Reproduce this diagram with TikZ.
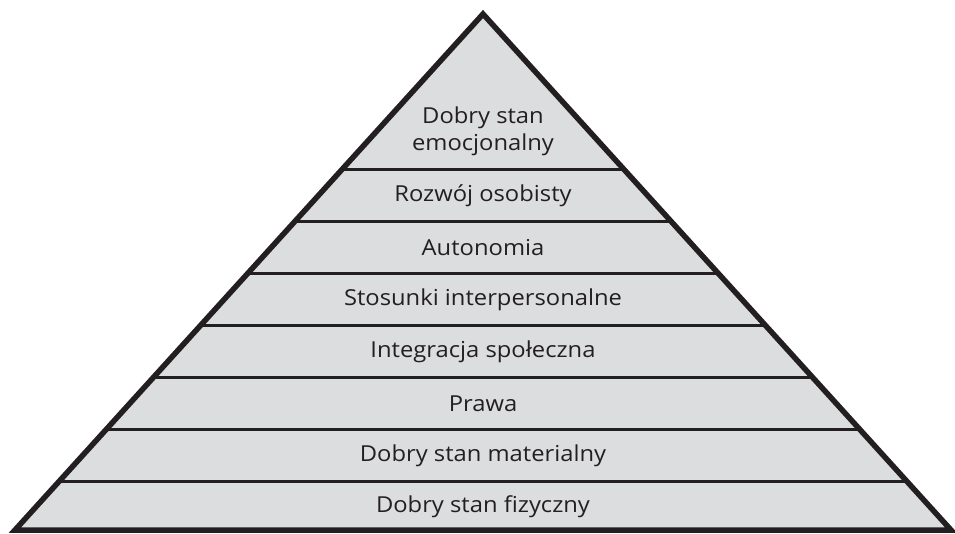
\documentclass[tikz,border=0pt]{standalone}
\usepackage{fontspec}
\setmainfont[FakeStretch=1.08]{Open Sans}
\definecolor{bandfill}{HTML}{DCDDDF}
\definecolor{inkdark}{HTML}{231F20}
\begin{document}
\begin{tikzpicture}[x=1pt,y=-1pt,
  outline/.style={draw=inkdark,line width=5.5pt,line join=miter},
  divider/.style={draw=inkdark,line width=2.5pt},
  label/.style={text=inkdark,font=\fontsize{22}{27}\selectfont,align=center,inner sep=0pt}]
\useasboundingbox (0,0) rectangle (955,533);
% pyramid corners
\coordinate (apex) at (483,14);
\coordinate (bl) at (15,530);
\coordinate (br) at (951,530);
\fill[bandfill] (apex) -- (bl) -- (br) -- cycle;
% horizontal dividers between levels
\begin{scope}
  \clip (apex) -- (bl) -- (br) -- cycle;
  \foreach \y in {169.5,221.5,273.5,325.5,377.5,429.5,481.5}
    \draw[divider] (0,\y) -- (955,\y);
\end{scope}
\draw[outline] (apex) -- (bl) -- (br) -- cycle;
% level labels
\node[label] (l8) at (483,131) {Dobry stan\\emocjonalny};
\node[label] (l7) at (483,195.5) {Rozwój osobisty};
\node[label] (l6) at (483,247.5) {Autonomia};
\node[label] (l5) at (483,299.5) {Stosunki interpersonalne};
\node[label] (l4) at (483,351.5) {Integracja społeczna};
\node[label] (l3) at (483,403.5) {Prawa};
\node[label] (l2) at (483,455.5) {Dobry stan materialny};
\node[label] (l1) at (483,507) {Dobry stan fizyczny};
\end{tikzpicture}
\end{document}
